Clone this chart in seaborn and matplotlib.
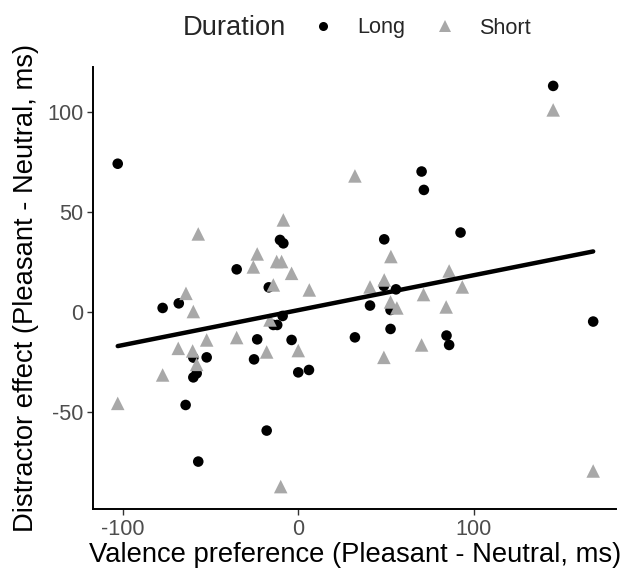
import numpy as np
import pandas as pd
import matplotlib
matplotlib.use("Agg")
import matplotlib.pyplot as plt
import seaborn as sns

# ---- data ----
long_x = [-102.9, -35.1, -77.3, -68.1, -16.8, -23.4, -59.8, -52.2, -57.9, -59.8,
          -25.2, -64.2, -18.0, -57.0, 70.3, 71.6, -10.4, -8.5, 49.0, 48.8,
          55.7, 40.9, 52.6, 52.6, 32.3, -14.2, -12.0, -3.8, 0.0, 6.1,
          -8.9, 92.5, 84.5, 86.0, 145.3, 168.1]
long_y = [74.1, 21.3, 2.0, 4.3, 12.3, -13.7, -22.8, -22.7, -30.7, -32.7,
          -23.7, -46.5, -59.3, -74.8, 70.2, 61.0, 36.0, 34.3, 36.3, 13.0,
          11.3, 3.2, 1.0, -8.5, -12.7, -6.5, -6.5, -14.0, -30.2, -29.0,
          -2.0, 39.7, -11.8, -16.5, 113.0, -4.8]
short_x = [-57.0, -23.4, -25.6, -64.0, -59.8, -68.4, -60.2, -52.2, -35.1, -18.0,
           -57.9, -77.3, -102.9, 32.3, -8.5, 52.8, -12.3, -9.5, -3.8, -14.2,
           6.3, 49.0, 40.9, 71.4, 52.6, 56.2, 70.3, 48.8, 0.0, -10.0,
           -16.1, 86.0, 93.5, 84.3, 145.3, 168.1]
short_y = [39.0, 29.0, 22.5, 9.3, 0.2, -18.2, -19.5, -14.0, -12.8, -20.0,
           -26.2, -31.5, -45.7, 68.0, 46.0, 27.7, 25.2, 25.2, 19.3, 13.5,
           11.0, 16.0, 12.5, 8.7, 5.0, 2.0, -16.5, -22.7, -19.3, -87.3,
           -4.0, 20.5, 12.5, 2.5, 101.0, -79.5]
groups = ["Long", "Short"]
x_ticks = [-100, 0, 100]
y_ticks = [-50, 0, 50, 100]
x_title = "Valence preference (Pleasant - Neutral, ms)"
y_title = "Distractor effect (Pleasant - Neutral, ms)"

df = pd.DataFrame({
    "x": long_x + short_x,
    "y": long_y + short_y,
    "Duration": [groups[0]] * len(long_x) + [groups[1]] * len(short_x),
})

sns.set_theme(style="white")
plt.rcParams["font.family"] = ["Liberation Sans", "DejaVu Sans"]

fig = plt.figure(figsize=(6.27, 5.74), dpi=100)
ax = fig.add_axes([0.1483, 0.1136, 0.8347, 0.7702])

sns.scatterplot(data=df, x="x", y="y", hue="Duration", style="Duration",
                size="Duration", sizes={"Long": 58, "Short": 95},
                palette={"Long": "black", "Short": "#A8A8A8"},
                markers={"Long": "o", "Short": "^"},
                linewidth=0, ax=ax, zorder=2)
sns.regplot(data=df, x="x", y="y", scatter=False, ci=None, color="black",
            line_kws={"linewidth": 3.2, "zorder": 3}, ax=ax, truncate=True)

ax.set_xlim(-117, 181.3)
ax.set_ylim(-98.4, 122.6)
ax.set_xticks(x_ticks)
ax.set_yticks(y_ticks)
ax.set_xticklabels([str(t) for t in x_ticks])
ax.set_yticklabels([str(t) for t in y_ticks])
for side in ["top", "right"]:
    ax.spines[side].set_visible(False)
for side in ["left", "bottom"]:
    ax.spines[side].set_color("black")
    ax.spines[side].set_linewidth(1.4)
ax.tick_params(axis="both", which="major", length=4, width=1.0, color="#333333",
               labelsize=15.6, labelcolor="#4D4D4D", pad=3, left=True, bottom=True)
ax.set_xlabel(x_title, fontsize=19.7, color="black", labelpad=2)
ax.set_ylabel(y_title, fontsize=19.7, color="black", labelpad=6)
ax.grid(False)

# legend on top, horizontal
handles, labels = ax.get_legend_handles_labels()
ax.get_legend().remove()
hl = [(h, l) for h, l in zip(handles, labels) if l in groups]
for h, l in hl:
    h.set_markersize(6.5 if l == "Long" else 8)
fig.text(234 / 627, 1 - 28 / 574, "Duration", fontsize=19.7, ha="center", va="center")
leg = fig.legend([h for h, _ in hl], [l for _, l in hl], loc="center left",
                 bbox_to_anchor=(312 / 627, 1 - 28 / 574), ncol=2, frameon=False,
                 fontsize=15.6, handlelength=1.0, handletextpad=1.1,
                 columnspacing=1.3, borderpad=0, borderaxespad=0)

fig.savefig("out.png", dpi=100)
